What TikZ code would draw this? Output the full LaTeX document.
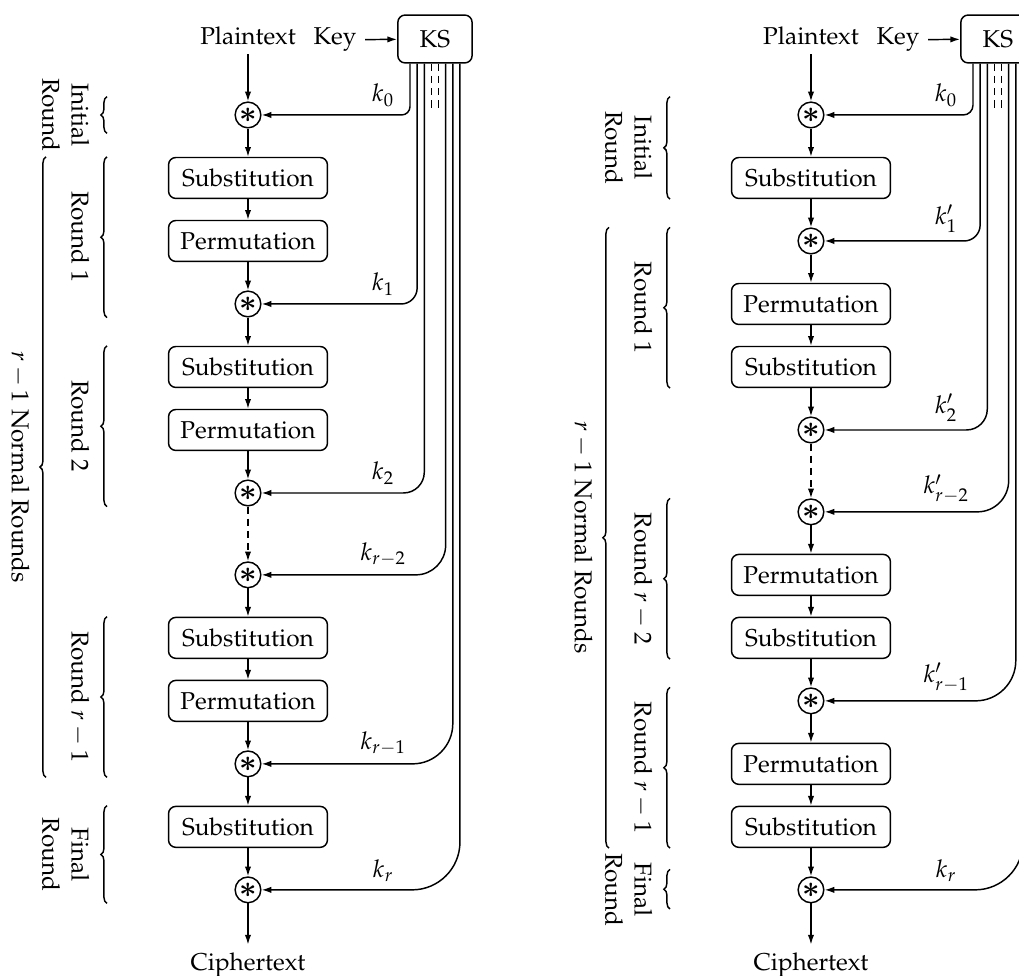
\documentclass[tikz,border=0pt]{standalone}
\usepackage[T1]{fontenc}
\usepackage{mathpazo}
\usepackage{bm}
\usepackage{tikz}
\usetikzlibrary{arrows.meta, positioning, calc, decorations.pathreplacing}

\newcommand{\mixstar}{\large$\bm{\ast}$}

\begin{document}
\begin{tikzpicture}[
    node distance=9.08mm,
    on grid,
    block/.style={
        rectangle,
        draw,
        semithick,
        rounded corners=3pt,
        minimum width=2.29cm,
        minimum height=5.9mm,
        inner sep=2pt
    },
    xorop/.style={
        circle,
        draw,
        semithick,
        minimum size=3.7mm,
        inner sep=0pt
    },
    keysched/.style={
        rectangle,
        draw,
        semithick,
        rounded corners=3pt,
        minimum width=10.7mm,
        minimum height=6.9mm
    },
    line/.style={
        -{Latex[length=4pt,width=2.6pt]},
        semithick
    },
    brc/.style={
        decorate,
        decoration={brace, amplitude=2.5pt},
        semithick
    },
    rlabel/.style={
        rotate=-90,
        anchor=north,
        align=center
    }
]

\useasboundingbox (0,0) rectangle (14.686,-14.066);

% ---------- left: substitution then permutation ----------
\node[xorop] (x0) at (3.574,-1.657) {\mixstar};
\node[anchor=base] (pt) at ([yshift=1.01cm]x0.center) {Plaintext};

\node[block, below=of x0] (s1) {Substitution};
\node[block, below=of s1] (p1) {Permutation};
\node[xorop, below=of p1] (x1) {\mixstar};
\node[block, below=of x1] (s2) {Substitution};
\node[block, below=of s2] (p2) {Permutation};
\node[xorop, below=of p2] (x2) {\mixstar};
\node[xorop, below=11.8mm of x2] (x3) {\mixstar};
\node[block, below=of x3] (s3) {Substitution};
\node[block, below=of s3] (p3) {Permutation};
\node[xorop, below=of p3] (x4) {\mixstar};
\node[block, below=of x4] (s4) {Substitution};
\node[xorop, below=of s4] (x5) {\mixstar};
\node[below=10.9mm of x5] (ct) {Ciphertext};

\node[keysched] (ks) at (6.269,-0.562) {KS};
\node[anchor=base] (key) at (4.828,-0.647) {Key};

\draw[line] (key) -- (ks);
\draw[line] (pt) -- (x0);
\draw[line] (x0) -- (s1);
\draw[line] (s1) -- (p1);
\draw[line] (p1) -- (x1);
\draw[line] (x1) -- (s2);
\draw[line] (s2) -- (p2);
\draw[line] (p2) -- (x2);
\draw[line, densely dashed] (x2) -- (x3);
\draw[line] (x3) -- (s3);
\draw[line] (s3) -- (p3);
\draw[line] (p3) -- (x4);
\draw[line] (x4) -- (s4);
\draw[line] (s4) -- (x5);
\draw[line] (x5) -- (ct);

% round keys
\draw[line, rounded corners=0.12cm] ([xshift=-0.36cm]ks.south) |- (x0);
\draw[line, rounded corners=0.23cm] ([xshift=-0.257cm]ks.south) |- (x1);
\draw[line, rounded corners=0.3cm] ([xshift=-0.154cm]ks.south) |- (x2);
\draw[semithick, densely dashed] ([xshift=-0.051cm]ks.south) -- ++(0,-0.68);
\draw[semithick, densely dashed] ([xshift=0.051cm]ks.south) -- ++(0,-0.68);
\draw[line, rounded corners=0.43cm] ([xshift=0.154cm]ks.south) |- (x3);
\draw[line, rounded corners=0.58cm] ([xshift=0.257cm]ks.south) |- (x4);
\draw[line, rounded corners=0.69cm] ([xshift=0.36cm]ks.south) |- (x5);

\node[above] (k0) at ([xshift=1.95cm]x0.center) {$k_0$};
\node[above] (k1) at ([xshift=1.95cm]x1.center) {$k_1$};
\node[above] (k2) at ([xshift=1.95cm]x2.center) {$k_2$};
\node[above] (k3) at ([xshift=1.95cm]x3.center) {$k_{r-2}$};
\node[above] (k4) at ([xshift=1.95cm]x4.center) {$k_{r-1}$};
\node[above] (k5) at ([xshift=1.95cm]x5.center) {$k_r$};

% rounds
\coordinate (bl) at (1.542,0);
\coordinate (tl) at (1.41,0);
\coordinate (ob) at (0.663,0);
\coordinate (ot) at (0.548,0);

\draw[brc] ($(x0.south -| bl)+(0,-0.07)$) -- ($(x0.north -| bl)+(0,0.07)$);
\node[rlabel] (rinit) at (tl |- x0) {Initial\\Round};

\draw[brc] (x1.south -| bl) -- (s1.north -| bl);
\node[rlabel] (rone) at ($(x1.south -| tl)!0.5!(s1.north -| tl)$) {Round 1};

\draw[brc] (x2.south -| bl) -- (s2.north -| bl);
\node[rlabel] (rtwo) at ($(x2.south -| tl)!0.5!(s2.north -| tl)$) {Round 2};

\draw[brc] (x4.south -| bl) -- (s3.north -| bl);
\node[rlabel] (rlast) at ($(x4.south -| tl)!0.5!(s3.north -| tl)$) {Round $r-1$};

\draw[brc] (x5.south -| bl) -- (s4.north -| bl);
\node[rlabel] (rfinal) at ($(x5.south -| tl)!0.5!(s4.north -| tl)$) {Final\\Round};

\draw[brc] (x4.south -| ob) -- (s1.north -| ob);
\node[rlabel] (rnormal) at ($(x4.south -| ot)!0.5!(s1.north -| ot)$) {$r-1$ Normal Rounds};

% ---------- right: permutation then substitution ----------
\node[xorop] (x0R) at (11.688,-1.657) {\mixstar};
\node[anchor=base] (ptR) at ([yshift=1.01cm]x0R.center) {Plaintext};

\node[block, below=of x0R] (s1R) {Substitution};
\node[xorop, below=of s1R] (x1R) {\mixstar};
\node[block, below=of x1R] (p1R) {Permutation};
\node[block, below=of p1R] (s2R) {Substitution};
\node[xorop, below=of s2R] (x2R) {\mixstar};
\node[xorop, below=11.8mm of x2R] (x3R) {\mixstar};
\node[block, below=of x3R] (p2R) {Permutation};
\node[block, below=of p2R] (s3R) {Substitution};
\node[xorop, below=of s3R] (x4R) {\mixstar};
\node[block, below=of x4R] (p3R) {Permutation};
\node[block, below=of p3R] (s4R) {Substitution};
\node[xorop, below=of s4R] (x5R) {\mixstar};
\node[below=10.9mm of x5R] (ctR) {Ciphertext};

\node[keysched] (ksR) at (14.383,-0.562) {KS};
\node[anchor=base] (keyR) at (12.942,-0.647) {Key};

\draw[line] (keyR) -- (ksR);
\draw[line] (ptR) -- (x0R);
\draw[line] (x0R) -- (s1R);
\draw[line] (s1R) -- (x1R);
\draw[line] (x1R) -- (p1R);
\draw[line] (p1R) -- (s2R);
\draw[line] (s2R) -- (x2R);
\draw[line, densely dashed] (x2R) -- (x3R);
\draw[line] (x3R) -- (p2R);
\draw[line] (p2R) -- (s3R);
\draw[line] (s3R) -- (x4R);
\draw[line] (x4R) -- (p3R);
\draw[line] (p3R) -- (s4R);
\draw[line] (s4R) -- (x5R);
\draw[line] (x5R) -- (ctR);

% round keys
\draw[line, rounded corners=0.14cm] ([xshift=-0.36cm]ksR.south) |- (x0R);
\draw[line, rounded corners=0.23cm] ([xshift=-0.257cm]ksR.south) |- (x1R);
\draw[line, rounded corners=0.3cm] ([xshift=-0.154cm]ksR.south) |- (x2R);
\draw[semithick, densely dashed] ([xshift=-0.051cm]ksR.south) -- ++(0,-0.68);
\draw[semithick, densely dashed] ([xshift=0.051cm]ksR.south) -- ++(0,-0.68);
\draw[line, rounded corners=0.45cm] ([xshift=0.154cm]ksR.south) |- (x3R);
\draw[line, rounded corners=0.58cm] ([xshift=0.257cm]ksR.south) |- (x4R);
\draw[line, rounded corners=0.69cm] ([xshift=0.36cm]ksR.south) |- (x5R);

\node[above] (k0R) at ([xshift=1.95cm]x0R.center) {$k_0$};
\node[above] (k1R) at ([xshift=1.95cm]x1R.center) {$k'_1$};
\node[above] (k2R) at ([xshift=1.95cm]x2R.center) {$k'_2$};
\node[above] (k3R) at ([xshift=1.95cm]x3R.center) {$k'_{r-2}$};
\node[above] (k4R) at ([xshift=1.95cm]x4R.center) {$k'_{r-1}$};
\node[above] (k5R) at ([xshift=1.95cm]x5R.center) {$k_r$};

% rounds
\coordinate (bR) at (9.656,0);
\coordinate (tR) at (9.524,0);
\coordinate (obR) at (8.777,0);
\coordinate (otR) at (8.662,0);

\draw[brc] (s1R.south -| bR) -- ($(x0R.north -| bR)+(0,0.07)$);
\node[rlabel] (rinitR) at ($(s1R.south -| tR)!0.5!($(x0R.north -| tR)+(0,0.07)$)$) {Initial\\Round};

\draw[brc] (s2R.south -| bR) -- (x1R.north -| bR);
\node[rlabel] (roneR) at ($(s2R.south -| tR)!0.5!(x1R.north -| tR)$) {Round 1};

\draw[brc] (s3R.south -| bR) -- (x3R.north -| bR);
\node[rlabel] (rprevR) at ($(s3R.south -| tR)!0.5!(x3R.north -| tR)$) {Round $r-2$};

\draw[brc] (s4R.south -| bR) -- (x4R.north -| bR);
\node[rlabel] (rlastR) at ($(s4R.south -| tR)!0.5!(x4R.north -| tR)$) {Round $r-1$};

\draw[brc] ($(x5R.south -| bR)+(0,-0.08)$) -- ($(x5R.north -| bR)+(0,0.1)$);
\node[rlabel] (rfinalR) at (tR |- x5R) {Final\\Round};

\draw[brc] (s4R.south -| obR) -- (x1R.north -| obR);
\node[rlabel] (rnormalR) at ($(s4R.south -| otR)!0.5!(x1R.north -| otR)$) {$r-1$ Normal Rounds};

\end{tikzpicture}
\end{document}
